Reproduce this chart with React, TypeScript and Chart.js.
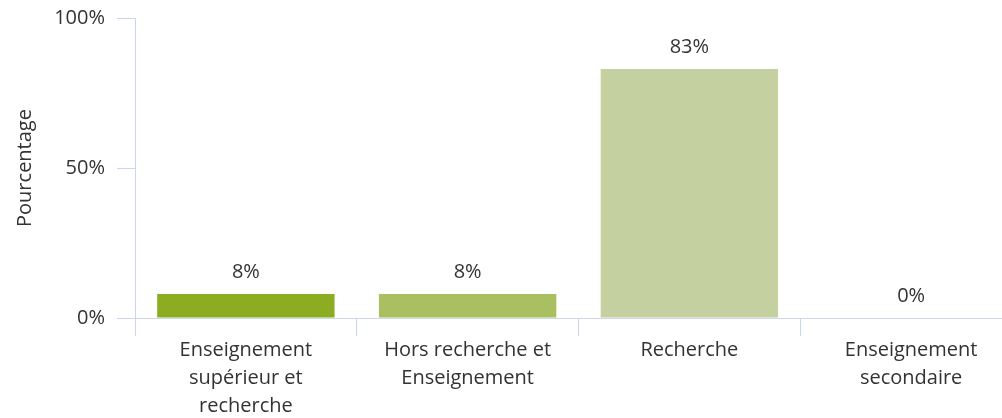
import React, { useEffect, useRef } from "react";
import { Chart, registerables } from "chart.js";

Chart.register(...registerables);

const categories: (string | string[])[] = [
  ["Enseignement", "supérieur et", "recherche"],
  ["Hors recherche et", "Enseignement"],
  "Recherche",
  ["Enseignement", "secondaire"],
];
const values: number[] = [8, 8, 83, 0];
const barColors: string[] = ["#8CAD22", "#A9BF61", "#C5D0A0", "#D9E1BE"];
const yTicks: number[] = [0, 50, 100];
const yTitle = "Pourcentage";

const FONT = "'Open Sans', 'DejaVu Sans', sans-serif";
const TEXT = "#333333";
const AXIS = "#CCD6EB";

const dataLabels = {
  id: "dataLabels",
  afterDatasetsDraw(chart: any) {
    const ctx = chart.ctx;
    const meta = chart.getDatasetMeta(0);
    ctx.save();
    ctx.font = `20px ${FONT}`;
    ctx.fillStyle = TEXT;
    ctx.textAlign = "center";
    ctx.textBaseline = "middle";
    meta.data.forEach((bar: any, i: number) => {
      ctx.fillText(`${values[i]}%`, bar.x, bar.y - 22);
    });
    ctx.restore();
  },
};

export default function App() {
  const ref = useRef<HTMLCanvasElement>(null);
  useEffect(() => {
    if (!ref.current) return;
    const chart = new Chart(ref.current, {
      type: "bar",
      data: {
        labels: categories,
        datasets: [
          {
            data: values,
            backgroundColor: barColors,
            borderWidth: 0,
            barPercentage: 0.8,
            categoryPercentage: 1,
          },
        ],
      },
      options: {
        responsive: false,
        animation: false,
        devicePixelRatio: 1,
        layout: { autoPadding: false, padding: { top: 12, right: 18, left: 0, bottom: 0 } },
        plugins: { legend: { display: false }, tooltip: { enabled: false } },
        scales: {
          x: {
            offset: true,
            grid: {
              offset: true,
              drawOnChartArea: false,
              drawTicks: true,
              tickLength: 18,
              color: AXIS,
              lineWidth: 1,
            },
            border: { color: AXIS, width: 1 },
            ticks: {
              color: TEXT,
              font: { family: FONT, size: 20, lineHeight: 1.4 },
              padding: 0,
              maxRotation: 0,
              autoSkip: false,
            },
            afterFit: (s: any) => {
              s.height = 112;
            },
          },
          y: {
            min: 0,
            max: 100,
            afterBuildTicks: (s: any) => {
              s.ticks = yTicks.map((v) => ({ value: v }));
            },
            grid: {
              drawOnChartArea: false,
              drawTicks: true,
              tickLength: 18,
              color: AXIS,
              lineWidth: 1,
            },
            border: { color: AXIS, width: 1 },
            ticks: {
              color: TEXT,
              font: { family: FONT, size: 20 },
              padding: 12,
              callback: (v: any) => `${v}%`,
            },
            title: {
              display: true,
              text: yTitle,
              color: TEXT,
              font: { family: FONT, size: 20 },
              padding: { top: 13, bottom: 0 },
            },
            afterFit: (s: any) => {
              s.width = 135;
            },
          },
        },
      },
      plugins: [dataLabels],
    });
    return () => chart.destroy();
  }, []);

  return (
    <div
      style={{
        position: "fixed",
        left: 0,
        top: 0,
        width: 1002,
        height: 418,
        overflow: "hidden",
        background: "#ffffff",
      }}
    >
      <canvas
        ref={ref}
        width={1040}
        height={436}
        style={{ display: "block", width: 1040, height: 436, marginTop: -6 }}
      />
    </div>
  );
}
